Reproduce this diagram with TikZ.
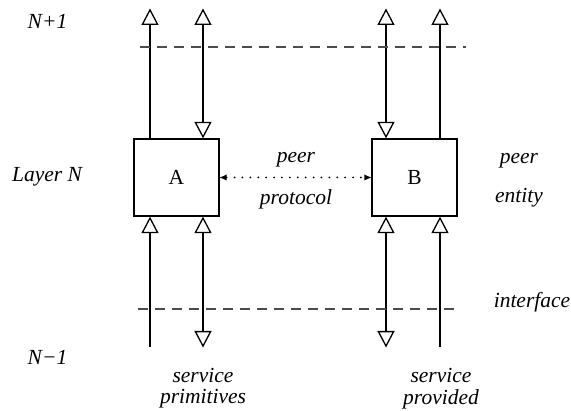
\documentclass[tikz,border=0pt]{standalone}
\usepackage{fontspec}
\setmainfont{Liberation Serif}
\usetikzlibrary{arrows.meta}
\begin{document}
\begin{tikzpicture}[x=1pt,y=-1pt,
  every node/.style={font=\rmfamily\fontsize{21.5}{25}\selectfont},
  lbl/.style={font=\rmfamily\fontsize{21.5}{25}\selectfont\itshape},
  entbox/.style={draw,line width=1.3pt,minimum width=85pt,minimum height=77pt,inner sep=0pt},
  flow/.style={line width=1.3pt},
  iface/.style={line width=1.5pt,draw=black!70,dash pattern=on 10pt off 7pt},
  peerln/.style={line width=2pt,line cap=round,dash pattern=on 0pt off 7.9pt,
     {Latex[length=7pt,width=6pt,line width=0pt]}-{Latex[length=7pt,width=6pt,line width=0pt]}}]
\tikzset{tri/.tip={Triangle[open,length=16.5pt,width=17pt]}}
\useasboundingbox (0,0) rectangle (571,411);
% boxes
\node[entbox] (A) at (176.5,177.5) {A};
\node[entbox] (B) at (414.5,177.5) {B};
% endpoints
\coordinate (a1t) at (150,8.5);  \coordinate (a2t) at (203,8.5);
\coordinate (b1t) at (386,8.5);  \coordinate (b2t) at (440,8.5);
\coordinate (a1b) at (150,347); \coordinate (a2b) at (203,347.5);
\coordinate (b1b) at (386,347.5); \coordinate (b2b) at (440,347);
% upper connectors
\draw[flow,-tri] (A.north -| a1t) -- (a1t);
\draw[flow,tri-tri] (A.north -| a2t) -- (a2t);
\draw[flow,tri-tri] (B.north -| b1t) -- (b1t);
\draw[flow,-tri] (B.north -| b2t) -- (b2t);
% lower connectors
\draw[flow,-tri] (a1b) -- (A.south -| a1b);
\draw[flow,tri-tri] (a2b) -- (A.south -| a2b);
\draw[flow,tri-tri] (b1b) -- (B.south -| b1b);
\draw[flow,-tri] (b2b) -- (B.south -| b2b);
% interfaces
\coordinate (i1l) at (140,47); \coordinate (i1r) at (466,47);
\coordinate (i2l) at (138,309); \coordinate (i2r) at (461,309);
\draw[iface] (i1l) -- (i1r);
\draw[iface] (i2l) -- (i2r);
% peer protocol
\draw[peerln] (A.east) -- (B.west);
% labels
\node[lbl] (n1) at (47.5,21) {N+1};
\node[lbl] (ln) at (47,177) {Layer N};
\node[lbl] (n0) at (47.5,357) {N−1};
\node[lbl] (pp1) at (296,160) {peer};
\node[lbl] (pp2) at (296,199) {protocol};
\node[lbl] (pe1) at (519,161) {peer};
\node[lbl] (pe2) at (519,198) {entity};
\node[lbl] (if) at (532,302) {interface};
\node[lbl] (sp1) at (203,375) {service};
\node[lbl] (sp2) at (203,399) {primitives};
\node[lbl] (sv1) at (441,375) {service};
\node[lbl] (sv2) at (441,399) {provided};
\end{tikzpicture}
\end{document}
